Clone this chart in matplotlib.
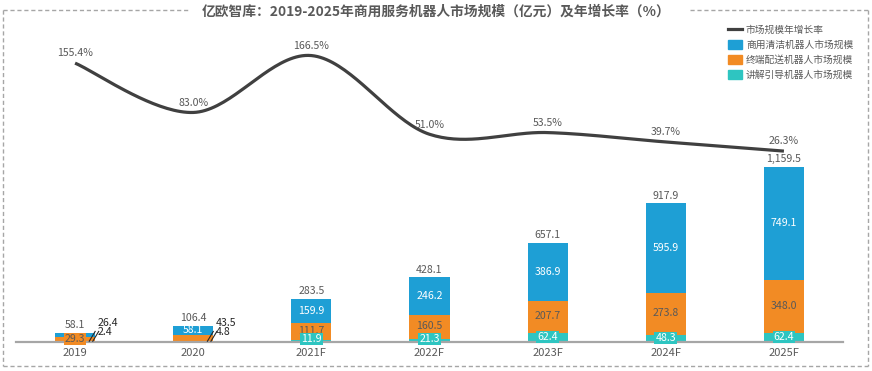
import numpy as np
import matplotlib
matplotlib.use("Agg")
import matplotlib.pyplot as plt
from matplotlib.lines import Line2D
from matplotlib.patches import Patch

plt.rcParams['font.family'] = ['Noto Sans CJK SC', 'DejaVu Sans']

# Données (亿元 / %)
years = ["2019", "2020", "2021F", "2022F", "2023F", "2024F", "2025F"]
guide = [2.4, 4.8, 11.9, 21.3, 62.4, 48.3, 62.4]
delivery = [29.3, 43.5, 111.7, 160.5, 207.7, 273.8, 348.0]
cleaning = [26.4, 58.1, 159.9, 246.2, 386.9, 595.9, 749.1]
totals = [58.1, 106.4, 283.5, 428.1, 657.1, 917.9, 1159.5]
growth = [155.4, 83.0, 166.5, 51.0, 53.5, 39.7, 26.3]

BLUE = "#1e9fd5"
ORANGE = "#f28b24"
TEAL = "#2ec5c1"
DARK = "#404040"
GREY = "#595959"

W, H = 872, 371


def smooth(x, y, n=40):
    # courbe lissée type Excel (Catmull-Rom -> Bezier)
    pts = np.column_stack([x, y]).astype(float)
    out = []
    for i in range(len(pts) - 1):
        p0 = pts[i - 1] if i > 0 else pts[i]
        p1, p2 = pts[i], pts[i + 1]
        p3 = pts[i + 2] if i + 2 < len(pts) else pts[i + 1]
        c1 = p1 + (p2 - p0) / 6
        c2 = p2 - (p3 - p1) / 6
        t = np.linspace(0, 1, n)[:, None]
        seg = ((1 - t) ** 3) * p1 + 3 * ((1 - t) ** 2) * t * c1 + 3 * (1 - t) * t ** 2 * c2 + t ** 3 * p2
        out.append(seg if i == 0 else seg[1:])
    out = np.vstack(out)
    return out[:, 0], out[:, 1]


fig = plt.figure(figsize=(W / 100, H / 100), dpi=100)
ax = fig.add_axes([16 / W, (H - 342) / H, (843 - 16) / W, (342 - 30) / H])
ax2 = ax.twinx()

x = np.arange(len(years))
bw = 0.34
g = np.array(guide)
d = np.array(delivery)
c = np.array(cleaning)

ax.bar(x, g, bw, color=TEAL, zorder=2)
ax.bar(x, d, bw, bottom=g, color=ORANGE, zorder=2)
ax.bar(x, c, bw, bottom=g + d, color=BLUE, zorder=2)

ax.set_xlim(-0.5, len(years) - 0.5)
ax.set_ylim(0, 2066)
ax2.set_ylim(-253.8, 204)

for a in (ax, ax2):
    for s in ("top", "right", "left"):
        a.spines[s].set_visible(False)
    a.set_yticks([])
ax2.spines["bottom"].set_visible(False)
ax.spines["bottom"].set_color("#a6a6a6")
ax.spines["bottom"].set_linewidth(1.6)
ax.set_xticks(x)
ax.set_xticklabels(years, color=GREY, fontsize=8)
ax.tick_params(axis="x", length=0, pad=4)

fs = 7.6
for i in x:
    ax.annotate(f"{totals[i]:,.1f}", (i, totals[i]), xytext=(0, 2), textcoords="offset points",
                ha="center", va="bottom", fontsize=fs, color=GREY)
    if i < 2:
        continue
    ax.text(i, g[i] + d[i] + c[i] / 2, f"{c[i]:.1f}", ha="center", va="center", fontsize=fs, color="white", zorder=4)
    ax.text(i, g[i] + d[i] / 2 + 4, f"{d[i]:.1f}", ha="center", va="center", fontsize=fs, color=GREY, zorder=4)
    ax.text(i, max(g[i] / 2, 20), f"{g[i]:.1f}", ha="center", va="center", fontsize=fs, color="white", zorder=5,
            bbox=dict(boxstyle="square,pad=0.1", fc=TEAL, ec="none"))

# petites barres 2019 / 2020 : étiquettes extérieures
ax.text(0, g[0] + d[0] / 2, f"{d[0]:.1f}", ha="center", va="center", fontsize=fs, color=GREY, zorder=5,
        bbox=dict(boxstyle="square,pad=0.1", fc=ORANGE, ec="none"))
ax.text(1, g[1] + d[1] + c[1] / 2, f"{c[1]:.1f}", ha="center", va="center", fontsize=fs, color="white", zorder=4)
outside = [(0, cleaning[0], guide[0]), (1, delivery[1], guide[1])]
for i, top_val, low_val in outside:
    ax.text(i + 0.19, 126, f"{top_val:.1f}", ha="left", va="center", fontsize=fs, color="#262626")
    ax.text(i + 0.19, 64, f"{low_val:.1f}", ha="left", va="center", fontsize=fs, color="#262626")
    ax.plot([i + 0.12, i + 0.17], [5, 70], color="#262626", lw=0.8, zorder=6)
    ax.plot([i + 0.15, i + 0.2], [5, 70], color="#262626", lw=0.8, zorder=6)

# courbe de croissance
sx, sy = smooth(x, growth)
ax2.plot(sx, sy, color=DARK, lw=2.3, solid_capstyle="butt", zorder=3)
for i in x:
    ax2.annotate(f"{growth[i]:.1f}%", (i, growth[i]), xytext=(0, 7), textcoords="offset points",
                 ha="center", va="center", fontsize=fs, color=GREY)

# légende
handles = [Line2D([], [], color=DARK, lw=2.3),
           Patch(color=BLUE), Patch(color=ORANGE), Patch(color=TEAL)]
labels = ["市场规模年增长率", "商用清洁机器人市场规模", "终端配送机器人市场规模", "讲解引导机器人市场规模"]
fig.legend(handles, labels, loc="upper left", bbox_to_anchor=(728 / W, 1 - 25 / H), frameon=False,
           fontsize=7, labelcolor=GREY, handlelength=1.45, handleheight=1.1, handletextpad=0.4,
           labelspacing=0.5, borderaxespad=0, borderpad=0)

fig.text(436 / W, 1 - 12 / H, "亿欧智库：2019-2025年商用服务机器人市场规模（亿元）及年增长率（%）",
         ha="center", va="center", fontsize=9.9, fontweight="bold", color=GREY)

# cadre pointillé
bc = dict(color="#a6a6a6", lw=1, linestyle=(0, (3, 2)), transform=fig.transFigure)
fig.lines += [
    Line2D([3 / W, 3 / W], [1 - 10 / H, 1 - 366 / H], **bc),
    Line2D([868 / W, 868 / W], [1 - 10 / H, 1 - 366 / H], **bc),
    Line2D([3 / W, 868 / W], [1 - 366 / H, 1 - 366 / H], **bc),
    Line2D([3 / W, 190 / W], [1 - 10 / H, 1 - 10 / H], **bc),
    Line2D([690 / W, 868 / W], [1 - 10 / H, 1 - 10 / H], **bc),
]

plt.savefig("out.png", dpi=100)
